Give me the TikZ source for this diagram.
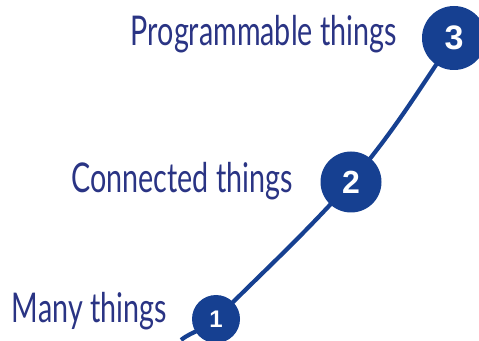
\documentclass[tikz,border=0pt]{standalone}
\usepackage{fontspec}
\setmainfont{Liberation Sans}
\newfontfamily\labelfont[FakeStretch=0.70]{Lato}
\usetikzlibrary{positioning,backgrounds}
\definecolor{stepblue}{RGB}{22,64,145}
\definecolor{labelblue}{RGB}{42,52,132}

\begin{document}
\begin{tikzpicture}[x=1pt,y=1pt]
    \tikzset{
        num/.style={shape=circle,fill=stepblue,text=white,inner sep=0pt,font=\bfseries},
        lbl/.style={anchor=base east,text=labelblue,inner sep=0pt,font=\labelfont\fontsize{41}{41}\selectfont},
        curve/.style={draw=stepblue,line width=4.2pt}
    }
    \useasboundingbox (0,0) rectangle (479,340);
    % Define nodes
    \coordinate (s) at (181,0);
    \node[num,minimum size=48pt,font=\bfseries\fontsize{24}{24}\selectfont] (1) at (216,21) {1};
    \node[num,minimum size=61pt,font=\bfseries\fontsize{32}{32}\selectfont] (2) at (351,158) {2};
    \node[num,minimum size=64pt,font=\bfseries\fontsize{34}{34}\selectfont] (3) at (454,302) {3};
    % Draw curve
    \begin{scope}[on background layer]
        \path[curve] (s) to[out=38,in=225] (1.center) to[out=45,in=228] (2.center) to[out=50,in=236] (3.center);
    \end{scope}
    % Labels
    \node[lbl] (l1) at (167,18) {Many things};
    \node[lbl] (l2) at (293,147) {Connected things};
    \node[lbl] (l3) at (397,294) {Programmable things};
\end{tikzpicture}
\end{document}
